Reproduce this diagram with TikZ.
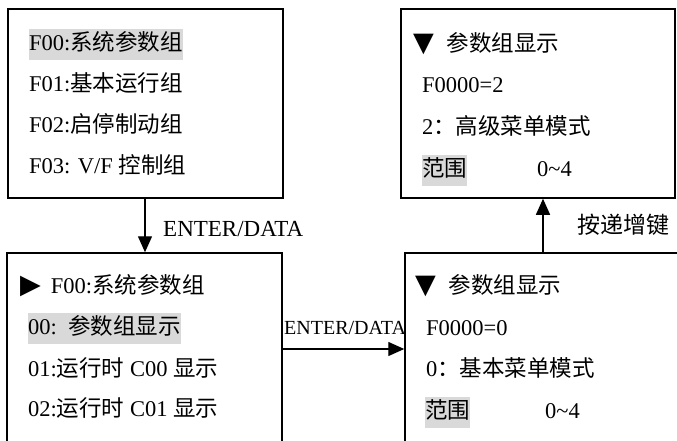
\documentclass[tikz,border=0pt]{standalone}
\usepackage{fontspec}
\setmainfont{Liberation Serif}
\newfontfamily\cjkfont{Noto Sans CJK SC}
\newfontfamily\symfont{DejaVu Sans}
\usetikzlibrary{arrows.meta, positioning, calc}
\definecolor{hilite}{HTML}{D9D9D9}
\newcommand{\zh}[1]{{\cjkfont #1}}
\newcommand{\mk}[1]{{\symfont\fontsize{27}{27}\selectfont #1}}

\begin{document}
\begin{tikzpicture}[x=1pt, y=-1pt,
    menubox/.style={draw, line width=1.5pt, inner sep=0pt},
    row/.style={anchor=base west, inner sep=0pt, font=\fontsize{22.5}{27}\selectfont},
    rowmark/.style={row, inner ysep=4pt, text height=17pt, text depth=6pt, fill=hilite},
    keylab/.style={anchor=base west, inner sep=0pt, font=\fontsize{23}{27}\selectfont},
    keyflow/.style={-{Triangle[length=16pt, width=14pt]}, line width=1.4pt}
  ]
    \useasboundingbox (0,0) rectangle (677,440);
    \clip (0,0) rectangle (677,440);

    % the four menu screens; the lower two run off the page
    \node[menubox, minimum width=275pt, minimum height=189pt] (grp)  at (145.5,103.5) {};
    \node[menubox, minimum width=275pt, minimum height=217pt] (sel)  at (144.5,361.5) {};
    \node[menubox, minimum width=295pt, minimum height=217pt] (val0) at (552.5,361.5) {};
    \node[menubox, minimum width=274pt, minimum height=189pt] (val2) at (538,103.5)   {};

    % group list
    \node[rowmark] (g0) at (29,50)  {F00:\zh{系统参数组}};
    \node[row]     (g1) at (29,91)  {F01:\zh{基本运行组}};
    \node[row]     (g2) at (29,132) {F02:\zh{启停制动组}};
    \node[row]     (g3) at (29,173) {F03: V/F \zh{控制组}};

    % parameters of F00
    \node[row]     (s0) at (20,293) {\mk{▶}\hspace{10pt}F00:\zh{系统参数组}};
    \node[rowmark] (s1) at (28,334) {00:\ \ \zh{参数组显示}};
    \node[row]     (s2) at (28,376) {01:\zh{运行时} C00 \zh{显示}};
    \node[row]     (s3) at (28,416) {02:\zh{运行时} C01 \zh{显示}};

    % value 0
    \node[row]     (a0) at (415,293) {\mk{▼}\hspace{13pt}\zh{参数组显示}};
    \node[row]     (a1) at (426,335) {F0000=0};
    \node[row]     (a2) at (426,376) {0\zh{：基本菜单模式}};
    \node[rowmark] (a3) at (425,418) {\zh{范围}};
    \node[row]     (a4) at (545,418) {0\textasciitilde4};

    % value 2
    \node[row]     (b0) at (413,51)  {\mk{▼}\hspace{13pt}\zh{参数组显示}};
    \node[row]     (b1) at (422,92)  {F0000=2};
    \node[row]     (b2) at (422,134) {2\zh{：高级菜单模式}};
    \node[rowmark] (b3) at (422,176) {\zh{范围}};
    \node[row]     (b4) at (537,176) {0\textasciitilde4};

    \coordinate (dn) at (145,198);
    \coordinate (rt) at (282,349);
    \coordinate (up) at (543,253);

    \draw[keyflow] (dn) -- (dn |- sel.north);
    \draw[keyflow] (rt) -- (rt -| val0.west);
    \draw[keyflow] (up) -- (up |- val2.south);

    \node[keylab] (k1) at (163,236) {ENTER/DATA};
    \node[keylab, font=\fontsize{20}{24}\selectfont] (k2) at (284,334) {ENTER/DATA};
    \node[keylab] (k3) at (577,233) {\zh{按递增键}};
  \end{tikzpicture}
\end{document}
